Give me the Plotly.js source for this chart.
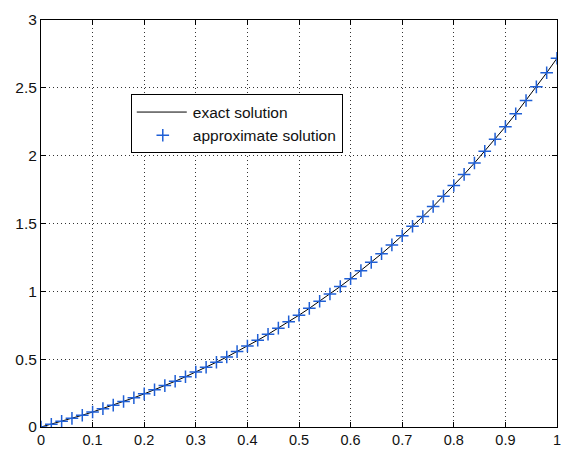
<!DOCTYPE html>
<html>
<head>
<meta charset="utf-8">
<script src="https://cdn.plot.ly/plotly-3.0.1.min.js"></script>
<style>html,body{margin:0;padding:0;background:#fff;}#chart{width:563px;height:450px;}</style>
</head>
<body>
<div id="chart"></div>
<script>
const xValues = [0,0.02,0.04,0.06,0.08,0.10,0.12,0.14,0.16,0.18,0.20,0.22,0.24,0.26,0.28,0.30,0.32,0.34,0.36,0.38,0.40,0.42,0.44,0.46,0.48,0.50,0.52,0.54,0.56,0.58,0.60,0.62,0.64,0.66,0.68,0.70,0.72,0.74,0.76,0.78,0.80,0.82,0.84,0.86,0.88,0.90,0.92,0.94,0.96,0.98,1.00];
const exactValues = [0,0.0204,0.0416,0.0637,0.0867,0.1105,0.1353,0.1610,0.1878,0.2155,0.2443,0.2741,0.3051,0.3372,0.3705,0.4050,0.4407,0.4777,0.5160,0.5557,0.5967,0.6392,0.6832,0.7287,0.7757,0.8244,0.8747,0.9266,0.9804,1.0359,1.0933,1.1525,1.2137,1.2770,1.3422,1.4096,1.4792,1.5510,1.6251,1.7015,1.7804,1.8618,1.9457,2.0323,2.1216,2.2136,2.3085,2.4064,2.5072,2.6112,2.7183];
const approxValues = [0,0.0204,0.0416,0.0637,0.0867,0.1105,0.1353,0.1610,0.1878,0.2155,0.2443,0.2741,0.3051,0.3372,0.3705,0.4050,0.4407,0.4777,0.5160,0.5557,0.5967,0.6392,0.6832,0.7287,0.7757,0.8244,0.8747,0.9266,0.9804,1.0359,1.0933,1.1525,1.2137,1.2770,1.3422,1.4096,1.4792,1.5510,1.6251,1.7015,1.7804,1.8618,1.9457,2.0323,2.1216,2.2136,2.3085,2.4064,2.5072,2.6112,2.7183];
const xTicks = [0,0.1,0.2,0.3,0.4,0.5,0.6,0.7,0.8,0.9,1];
const xTickLabels = ['0','0.1','0.2','0.3','0.4','0.5','0.6','0.7','0.8','0.9','1'];
const yTicks = [0,0.5,1,1.5,2,2.5,3];
const yTickLabels = ['0','0.5','1','1.5','2','2.5','3'];

const traces = [
  {x: xValues, y: exactValues, mode: 'lines', name: 'exact solution',
   line: {color: '#000000', width: 1}},
  {x: xValues, y: approxValues, mode: 'markers', name: 'approximate solution',
   marker: {symbol: 'cross-thin-open', size: 9, line: {color: '#1f5fd6', width: 1.5}, color: '#1f5fd6'}}
];

const axisCommon = {
  showline: true, linecolor: '#000', linewidth: 1, mirror: 'allticks',
  ticks: 'inside', ticklen: 5, tickcolor: '#000', tickwidth: 1,
  showgrid: true, gridcolor: '#333', griddash: '1px,3px', gridwidth: 1,
  zeroline: false,
  tickfont: {family: 'Liberation Sans, Arial, sans-serif', size: 15.5, color: '#111'}
};

const layout = {
  width: 563, height: 450,
  margin: {l: 41, r: 6, t: 20, b: 23, pad: 0},
  paper_bgcolor: '#fff', plot_bgcolor: '#fff',
  showlegend: true,
  xaxis: Object.assign({}, axisCommon, {range: [0, 1], tickmode: 'array', tickvals: xTicks, ticktext: xTickLabels,
    tickfont: {family: 'Liberation Sans, Arial, sans-serif', size: 14.5, color: '#111'}}),
  yaxis: Object.assign({}, axisCommon, {range: [0, 3], tickmode: 'array', tickvals: yTicks, ticktext: yTickLabels}),
  legend: {
    x: 0.174, y: 0.817, xanchor: 'left', yanchor: 'top',
    bgcolor: '#fff', bordercolor: '#000', borderwidth: 1,
    itemwidth: 51,
    font: {family: 'Liberation Sans, Arial, sans-serif', size: 15.5, color: '#111'},
    tracegroupgap: 0
  }
};

Plotly.newPlot('chart', traces, layout, {displayModeBar: false, staticPlot: true}).then(function (gd) {
  gd.querySelectorAll('.legend .legendlines path').forEach(function (p) {
    p.setAttribute('d', 'M5,0h50');
  });
  gd.querySelectorAll('.legend .legendpoints path').forEach(function (p) {
    p.setAttribute('transform', 'translate(31,0)');
  });
});
</script>
</body>
</html>
